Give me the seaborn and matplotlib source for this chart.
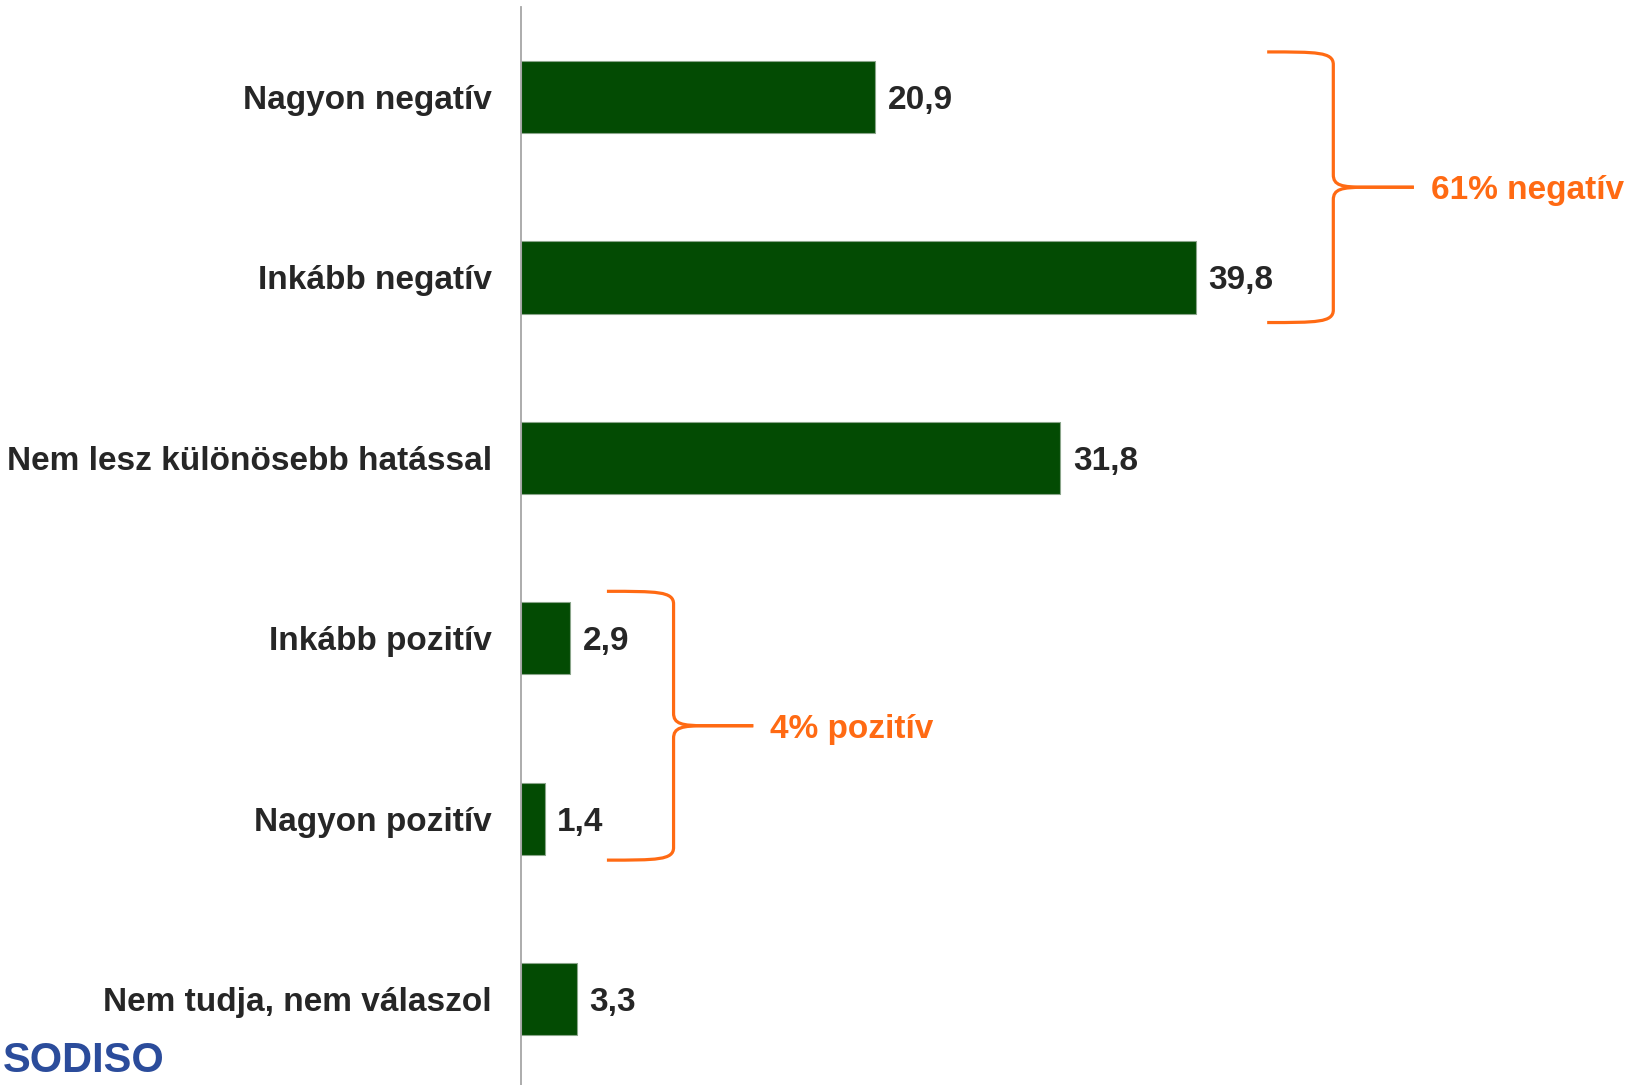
import numpy as np
import pandas as pd
import matplotlib.pyplot as plt
from matplotlib.path import Path
from matplotlib.patches import PathPatch
import seaborn as sns

categories = ['Nagyon negatív', 'Inkább negatív', 'Nem lesz különösebb hatással',
              'Inkább pozitív', 'Nagyon pozitív', 'Nem tudja, nem válaszol']
values = [20.9, 39.8, 31.8, 2.9, 1.4, 3.3]
value_labels = ['20,9', '39,8', '31,8', '2,9', '1,4', '3,3']
group_labels = ['61% negatív', '4% pozitív']
group_members = [(0, 1), (3, 4)]

BAR_COLOR = '#034B03'
ORANGE = '#FF6A13'
TEXT = '#262626'

sns.set_style('white')
plt.rcParams['font.family'] = ['Liberation Sans', 'DejaVu Sans']


def brace_half(xl, xv, xt, yend, ym):
    # one half of a curly brace, from the outer end to the tip
    s = 1 if ym > yend else -1
    verts = [(xl, yend),
             (xl + 0.75 * (xv - xl), yend), (xv, yend), (xv, yend + s * 0.07),
             (xv, ym - s * 0.07),
             (xv, ym - s * 0.01), (xv + 0.1 * (xt - xv), ym), (xv + 0.4 * (xt - xv), ym),
             (xt, ym)]
    codes = [Path.MOVETO,
             Path.CURVE4, Path.CURVE4, Path.CURVE4,
             Path.LINETO,
             Path.CURVE4, Path.CURVE4, Path.CURVE4,
             Path.LINETO]
    return Path(verts, codes)


def draw_brace(ax, xl, xv, xt, y0, y1, label):
    ym = (y0 + y1) / 2
    for yend in (y0, y1):
        ax.add_patch(PathPatch(brace_half(xl, xv, xt, yend, ym), fill=False,
                               edgecolor=ORANGE, lw=2.3, capstyle='butt'))
    ax.text(xt + 1.0, ym, label, color=ORANGE, fontsize=24, fontweight='bold',
            va='center_baseline', ha='left')


df = pd.DataFrame({'category': categories, 'value': values})

fig = plt.figure(figsize=(16.33, 10.85), dpi=100)
ax = fig.add_axes([0.319, -0.0039, 0.681, 0.9976])

sns.barplot(data=df, x='value', y='category', orient='h', color=BAR_COLOR,
            width=0.4, edgecolor='#8aa58a', linewidth=0.8, saturation=1, ax=ax)

labels = ax.bar_label(ax.containers[0], labels=value_labels, padding=9, fontsize=24,
                      fontweight='bold', color=TEXT)
for t in labels:
    t.set_va('center_baseline')

ax.set_xlim(0, 65.57)
ax.set_ylim(5.5, -0.5)
ax.set_xlabel('')
ax.set_ylabel('')
ax.set_xticks([])
ax.tick_params(axis='y', length=0, pad=21, labelsize=24, labelcolor=TEXT)
for lab in ax.get_yticklabels():
    lab.set_fontweight('bold')

for sp in ['top', 'right', 'bottom']:
    ax.spines[sp].set_visible(False)
ax.spines['left'].set_color('#A6A6A6')
ax.spines['left'].set_linewidth(1.3)

# group braces
draw_brace(ax, 44.0, 47.9, 52.65, group_members[0][0] - 0.25,
           group_members[0][1] + 0.25, group_labels[0])
draw_brace(ax, 5.07, 9.0, 13.7, group_members[1][0] - 0.26,
           group_members[1][1] + 0.23, group_labels[1])

# logo at the bottom edge
fig.text(0.002, 0.004, 'SODISO', va='bottom', ha='left', fontsize=30,
         fontweight='bold', color='#2B4C9B')

fig.savefig('out.png', dpi=100)
